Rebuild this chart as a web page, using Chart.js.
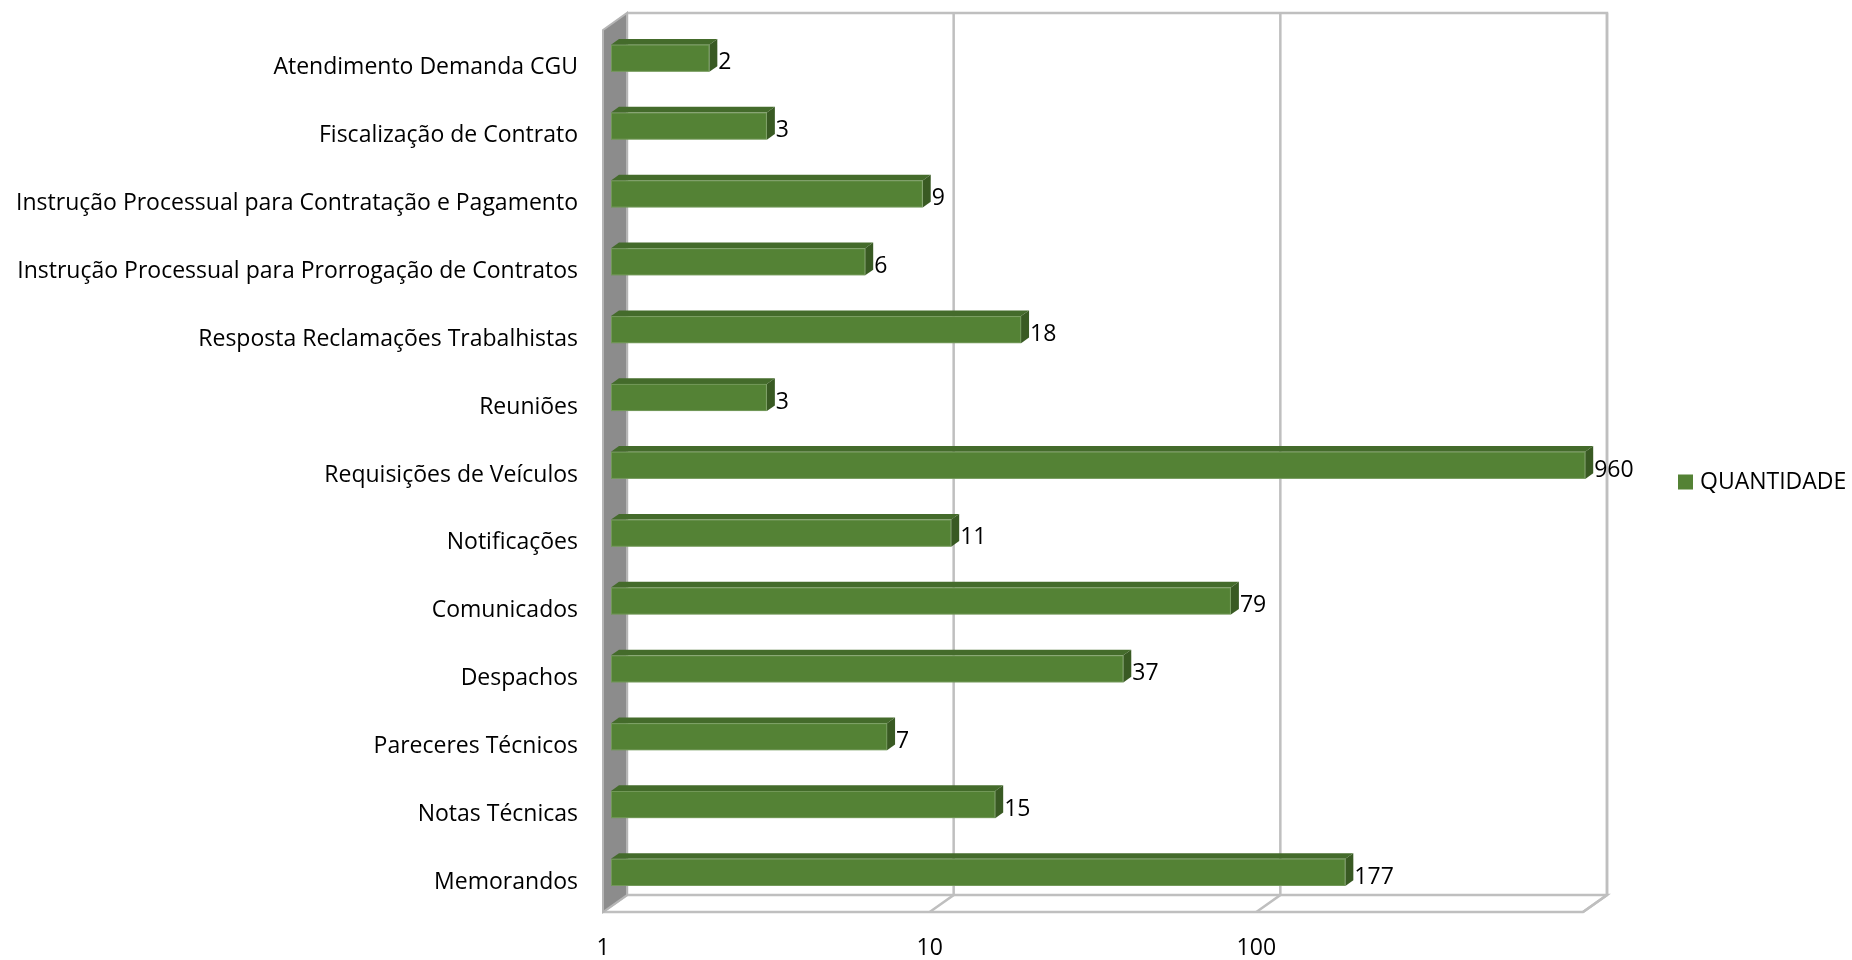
<!DOCTYPE html>
<html><head><meta charset="utf-8">
<script src="https://cdn.jsdelivr.net/npm/chart.js@4/dist/chart.umd.min.js"></script>
<style>html,body{margin:0;padding:0;background:#fff;overflow:hidden}</style>
</head><body>
<canvas id="c" width="1852" height="960"></canvas>
<script>
const categories = [
  'Atendimento Demanda CGU',
  'Fiscalização de Contrato',
  'Instrução Processual para Contratação e Pagamento',
  'Instrução Processual para Prorrogação de Contratos',
  'Resposta Reclamações Trabalhistas',
  'Reuniões',
  'Requisições de Veículos',
  'Notificações',
  'Comunicados',
  'Despachos',
  'Pareceres Técnicos',
  'Notas Técnicas',
  'Memorandos'
];
const quantidade = [2, 3, 9, 6, 18, 3, 960, 11, 79, 37, 7, 15, 177];
const seriesName = 'QUANTIDADE';
const tickValues = [1, 10, 100, 1000];
const tickLabels = ['1', '10', '100', ''];

const FONT = '"Open Sans"';
const FS = 23;
const DX = 24, DY = 17;          // full floor depth
const GRID = '#bfbfbf';
const FRONT = '#548235', TOP = '#446b2b', SIDE = '#395a23';

const box3d = {
  id: 'box3d',
  beforeDatasetsDraw(chart) {
    const {ctx, chartArea: a, scales: {x}} = chart;
    ctx.save();
    ctx.lineWidth = 2.5;
    ctx.strokeStyle = GRID;
    ctx.beginPath();
    ctx.moveTo(a.left + DX, a.top - DY);
    ctx.lineTo(a.right + DX, a.top - DY);
    ctx.lineTo(a.right + DX, a.bottom - DY);
    ctx.stroke();
    tickValues.forEach(v => {
      const px = x.getPixelForValue(v);
      ctx.beginPath();
      ctx.moveTo(px + DX, a.top - DY);
      ctx.lineTo(px + DX, a.bottom - DY);
      ctx.lineTo(px, a.bottom);
      ctx.stroke();
    });
    ctx.beginPath();
    ctx.moveTo(a.left + DX, a.bottom - DY);
    ctx.lineTo(a.right + DX, a.bottom - DY);
    ctx.lineTo(a.right, a.bottom);
    ctx.lineTo(a.left, a.bottom);
    ctx.stroke();
    ctx.beginPath();
    ctx.moveTo(a.left, a.top);
    ctx.lineTo(a.left + DX, a.top - DY);
    ctx.lineTo(a.left + DX, a.bottom - DY);
    ctx.lineTo(a.left, a.bottom);
    ctx.closePath();
    ctx.fillStyle = '#8c8c8c';
    ctx.fill();
    ctx.strokeStyle = '#b5b5b5';
    ctx.lineWidth = 2;
    ctx.stroke();
    ctx.restore();
  },
  afterDatasetsDraw(chart) {
    const {ctx, chartArea: a} = chart;
    const meta = chart.getDatasetMeta(0);
    const fx = DX / 3, fy = DY / 3;
    ctx.save();
    meta.data.forEach((bar, i) => {
      const p = bar.getProps(['x', 'y', 'base', 'height'], true);
      const x0 = p.base + fx, x1 = p.x + fx;
      const y0 = p.y - p.height / 2 - fy, y1 = p.y + p.height / 2 - fy;
      ctx.fillStyle = TOP;
      ctx.beginPath();
      ctx.moveTo(x0, y0); ctx.lineTo(x0 + fx, y0 - fy);
      ctx.lineTo(x1 + fx, y0 - fy); ctx.lineTo(x1, y0); ctx.closePath(); ctx.fill();
      ctx.fillStyle = SIDE;
      ctx.beginPath();
      ctx.moveTo(x1, y0); ctx.lineTo(x1 + fx, y0 - fy);
      ctx.lineTo(x1 + fx, y1 - fy); ctx.lineTo(x1, y1); ctx.closePath(); ctx.fill();
      ctx.fillStyle = FRONT;
      ctx.fillRect(x0, y0, x1 - x0, y1 - y0);
      ctx.strokeStyle = 'rgba(255,255,255,0.18)';
      ctx.lineWidth = 1;
      ctx.strokeRect(x0 + 0.5, y0 + 0.5, x1 - x0 - 1, y1 - y0 - 1);
      ctx.fillStyle = '#000';
      ctx.font = FS + 'px ' + FONT;
      ctx.textAlign = 'left';
      ctx.textBaseline = 'middle';
      ctx.fillText(String(quantidade[i]), x1 + fx + 1, p.y - 1);
    });
    const lx = a.right + 95, ly = (a.top + a.bottom) / 2 + 11;
    ctx.fillStyle = FRONT;
    ctx.fillRect(lx, ly - 7.5, 15, 15);
    ctx.fillStyle = '#000';
    ctx.font = FS + 'px ' + FONT;
    ctx.textAlign = 'left';
    ctx.textBaseline = 'middle';
    ctx.fillText(seriesName, lx + 22, ly);
    ctx.restore();
  }
};

new Chart(document.getElementById('c'), {
  type: 'bar',
  data: {
    labels: categories,
    datasets: [{
      label: seriesName,
      data: quantidade,
      backgroundColor: 'rgba(0,0,0,0)',
      borderWidth: 0,
      barPercentage: 0.4,
      categoryPercentage: 1
    }]
  },
  options: {
    indexAxis: 'y',
    responsive: false,
    animation: false,
    devicePixelRatio: 1,
    layout: {padding: {left: 0, top: 30, right: 269, bottom: 0}},
    plugins: {legend: {display: false}, tooltip: {enabled: false}},
    scales: {
      x: {
        type: 'logarithmic',
        min: 1, max: 1000,
        afterBuildTicks(s) { s.ticks = tickValues.map(v => ({value: v})); },
        afterFit(s) { s.height = 48; s.paddingLeft = 0; s.paddingRight = 0; },
        grid: {display: false, drawTicks: false},
        border: {display: false},
        ticks: {
          autoSkip: false, maxRotation: 0, padding: 23, color: '#000',
          font: {family: FONT, size: FS},
          callback: (v) => tickLabels[tickValues.indexOf(v)] ?? ''
        }
      },
      y: {
        afterFit(s) { s.width = 603; s.paddingTop = 0; s.paddingBottom = 0; },
        grid: {display: false, drawTicks: false},
        border: {display: false},
        ticks: {padding: 25, labelOffset: 4, color: '#000', font: {family: FONT, size: FS}, autoSkip: false}
      }
    }
  },
  plugins: [box3d]
});
</script>
</body></html>
